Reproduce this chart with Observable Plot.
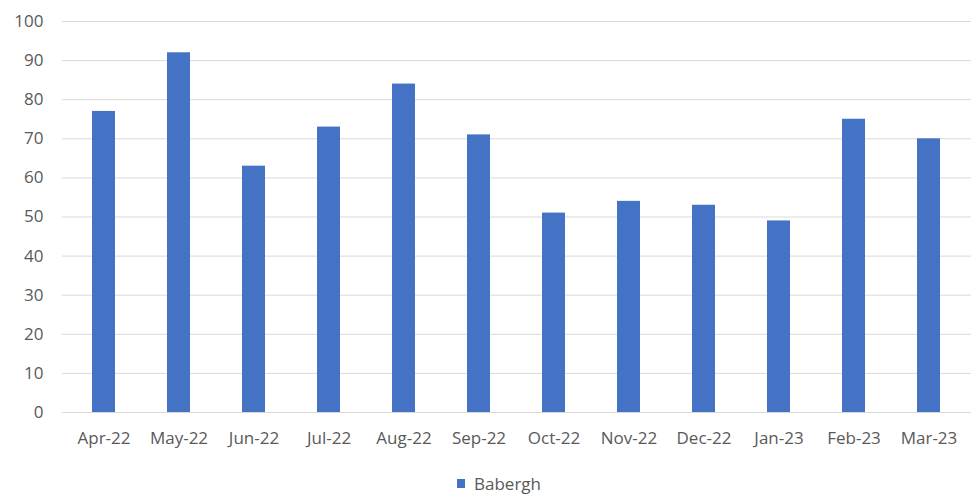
<!DOCTYPE html>
<html>
<head>
<meta charset="utf-8">
<script src="https://cdn.jsdelivr.net/npm/d3@7"></script>
<script src="https://cdn.jsdelivr.net/npm/@observablehq/plot@0.6"></script>
<style>
  body { margin: 0; background: #fff; font-family: "Open Sans", "Noto Sans", sans-serif; }
  #chart { width: 972px; }
  .legend { display: flex; justify-content: center; align-items: center; gap: 9px; font-size: 17px; color: #595959; margin-top: 14px; padding-left: 26px; }
  .legend .swatch { width: 8px; height: 9px; background: #4472c4; display: inline-block; }
</style>
</head>
<body>
<div id="chart"></div>
<script>
// Monthly values for Babergh, April 2022 to March 2023
const months = ["Apr-22", "May-22", "Jun-22", "Jul-22", "Aug-22", "Sep-22", "Oct-22", "Nov-22", "Dec-22", "Jan-23", "Feb-23", "Mar-23"];
const values = [77, 92, 63, 73, 84, 71, 51, 54, 53, 49, 75, 70];
const yTicks = [0, 10, 20, 30, 40, 50, 60, 70, 80, 90, 100];
const seriesName = "Babergh";

const data = months.map((m, i) => ({month: m, value: values[i]}));

const plot = Plot.plot({
  width: 972,
  height: 458,
  marginTop: 21,
  marginLeft: 62,
  marginRight: 1,
  marginBottom: 46,
  style: {fontFamily: "'Open Sans', 'Noto Sans', sans-serif", fontSize: "17px", color: "#595959", background: "#fff"},
  // each month gets an equal slot; the bar fills about a third of it
  x: {domain: months, paddingInner: 0.69, paddingOuter: 0.345, label: null},
  y: {domain: [0, 100], ticks: yTicks, label: null},
  marks: [
    Plot.gridY(yTicks, {stroke: "#d9d9d9", strokeOpacity: 1}),
    Plot.barY(data, {x: "month", y: "value", fill: "#4472c4"}),
    Plot.axisX({tickSize: 0, tickPadding: 19, fill: "#595959"}),
    Plot.axisY(yTicks, {tickSize: 0, tickPadding: 19, fill: "#595959"})
  ]
});
document.getElementById("chart").appendChild(plot);

const legend = document.createElement("div");
legend.className = "legend";
legend.innerHTML = `<span class="swatch"></span><span>${seriesName}</span>`;
document.getElementById("chart").appendChild(legend);
</script>
</body>
</html>
